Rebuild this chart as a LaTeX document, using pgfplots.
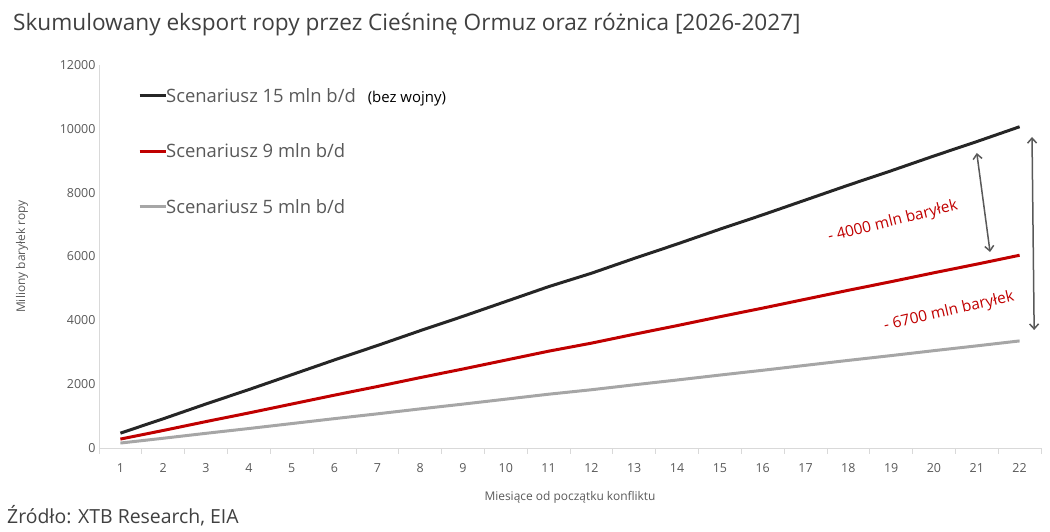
\documentclass[border=0pt]{standalone}
\usepackage{fontspec}
\setmainfont{Open Sans}
\usepackage{pgfplots}
\pgfplotsset{compat=1.18}
\usetikzlibrary{arrows.meta}
\definecolor{cblack}{HTML}{262626}
\definecolor{cred}{HTML}{C00000}
\definecolor{cgray}{HTML}{A6A6A6}
\definecolor{ctext}{HTML}{595959}
\definecolor{ctitle}{HTML}{404040}
\definecolor{caxis}{HTML}{D9D9D9}
\definecolor{carrow}{HTML}{595959}
\begin{document}
\begin{tikzpicture}[x=1bp,y=1bp]
\useasboundingbox (-99,-84) rectangle (951,448);
\begin{axis}[
  at={(0,0)}, anchor=south west,
  scale only axis, width=942bp, height=383bp,
  xmin=0.5, xmax=22.5, ymin=0, ymax=12000,
  xtick={1,...,22},
  minor xtick={0.5,1.5,...,22.5},
  major tick length=0pt,
  minor tick length=6bp,
  ytick={0,2000,...,12000},
  axis x line*=bottom, axis y line*=left,
  axis line style={caxis, line width=0.8bp},
  every minor tick/.style={caxis, line width=0.8bp},
  ytick style={caxis, line width=0.8bp},
  /pgf/number format/1000 sep={},
  /pgf/number format/assume math mode=true,
  yticklabel style={font=\fontsize{12.5}{12.5}\selectfont, text=ctext},
  xticklabel style={font=\fontsize{12.5}{12.5}\selectfont, text=ctext, yshift=-12bp},
  scaled y ticks=false,
  tick align=outside,
  xlabel={Miesiące od początku konfliktu},
  xlabel style={font=\fontsize{12}{12}\selectfont, text=ctext, yshift=-12bp},
  ylabel={Miliony baryłek ropy},
  ylabel style={font=\fontsize{12}{12}\selectfont, text=ctext, yshift=25bp},
  legend style={at={(36bp,364bp)}, anchor=north west, draw=none, fill=none,
    font=\fontsize{18.5}{18.5}\selectfont, text=ctext, row sep=36bp,
    /tikz/every even column/.append style={column sep=0bp}},
  legend cell align=left,
  legend image code/.code={\draw[#1, line width=3bp] (0bp,0bp) -- (26bp,0bp);},
  clip=false,
]
\addplot[cblack, line width=3bp] coordinates {
(1,465)(2,915)(3,1380)(4,1830)(5,2295)(6,2760)(7,3210)(8,3675)(9,4125)(10,4590)(11,5055)(12,5475)(13,5940)(14,6390)(15,6855)(16,7305)(17,7770)(18,8235)(19,8685)(20,9150)(21,9600)(22,10065)};
\addlegendentry{\hspace{-3bp}Scenariusz 15 mln b/d\hspace{12bp}{\fontsize{15}{15}\selectfont\color{black}(bez wojny)}}
\addplot[cred, line width=3bp] coordinates {
(1,279)(2,549)(3,828)(4,1098)(5,1377)(6,1656)(7,1926)(8,2205)(9,2475)(10,2754)(11,3033)(12,3285)(13,3564)(14,3834)(15,4113)(16,4383)(17,4662)(18,4941)(19,5211)(20,5490)(21,5760)(22,6039)};
\addlegendentry{\hspace{-3bp}Scenariusz 9 mln b/d}
\addplot[cgray, line width=3bp] coordinates {
(1,155)(2,305)(3,460)(4,610)(5,765)(6,920)(7,1070)(8,1225)(9,1375)(10,1530)(11,1685)(12,1825)(13,1980)(14,2130)(15,2285)(16,2435)(17,2590)(18,2745)(19,2895)(20,3050)(21,3200)(22,3355)};
\addlegendentry{\hspace{-3bp}Scenariusz 5 mln b/d}
\draw[carrow, line width=1.5bp, {Straight Barb[length=5bp,width=9bp]}-{Straight Barb[length=5bp,width=9bp]}] (axis cs:21.0,9243) -- (axis cs:21.31,6141);
\draw[carrow, line width=1.5bp, {Straight Barb[length=5bp,width=9bp]}-{Straight Barb[length=5bp,width=9bp]}] (axis cs:22.29,9744) -- (axis cs:22.34,3697);
\node[text=cred, rotate=14, inner sep=0pt, font=\fontsize{15.5}{15.5}\selectfont] at (axis cs:19.04,7081) {- 4000 mln baryłek};
\node[text=cred, rotate=13, inner sep=0pt, font=\fontsize{15.5}{15.5}\selectfont] at (axis cs:20.35,4261) {- 6700 mln baryłek};
\end{axis}
\node[anchor=west, inner sep=0pt, text=ctitle, font=\fontsize{22.7}{22.7}\selectfont] at (-86,423) {Skumulowany eksport ropy przez Cieśninę Ormuz oraz różnica [2026-2027]};
\node[anchor=west, inner sep=0pt, text=ctitle, font=\fontsize{19.5}{19.5}\selectfont] at (-92,-68) {Źródło: XTB Research, EIA};
\end{tikzpicture}
\end{document}
